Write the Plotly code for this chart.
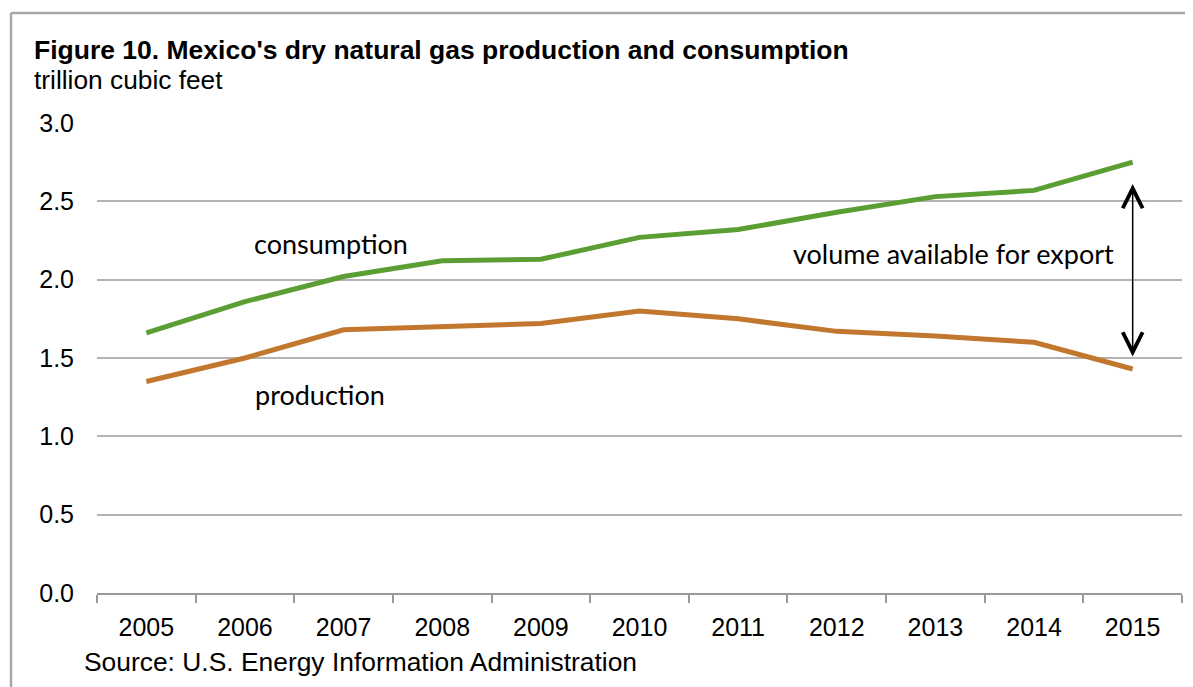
import plotly.graph_objects as go

years = ["2005", "2006", "2007", "2008", "2009", "2010", "2011", "2012", "2013", "2014", "2015"]
consumption = [1.66, 1.86, 2.02, 2.12, 2.13, 2.27, 2.32, 2.43, 2.53, 2.57, 2.75]
production = [1.35, 1.50, 1.68, 1.70, 1.72, 1.80, 1.75, 1.67, 1.64, 1.60, 1.43]
y_ticks = [0.0, 0.5, 1.0, 1.5, 2.0, 2.5, 3.0]
arrow_top = 2.62
arrow_bottom = 1.51

GREEN = "#5B9E33"
ORANGE = "#C2772E"
GRID = "#B3B3B3"
AXIS = "#999999"
SANS = "Liberation Sans, Arial"

# page offset: the figure sits 8px inside the page body
OFF = 8
PL, PR, PT, PB = 97, 1182, 123, 593   # plot area on screen
PW, PH = PR - PL, PB - PT


def px(x):
    return (x - PL) / PW


def py(y):
    return (PB - y) / PH


fig = go.Figure()
fig.add_trace(go.Scatter(x=years, y=consumption, mode="lines", name="consumption",
                         line=dict(color=GREEN, width=5)))
fig.add_trace(go.Scatter(x=years, y=production, mode="lines", name="production",
                         line=dict(color=ORANGE, width=5)))

fig.update_layout(
    width=1193, height=687,
    margin=dict(l=PL - OFF, r=1193 + OFF - PR, t=PT - OFF, b=687 + OFF - PB),
    paper_bgcolor="white", plot_bgcolor="white",
    showlegend=False,
    font=dict(family=SANS, size=25, color="black"),
    xaxis=dict(type="category", range=[-0.5, 10.5], tickson="boundaries",
               ticks="outside", ticklen=8, tickcolor=AXIS, tickwidth=1.5,
               showline=True, linecolor=AXIS, linewidth=1.5,
               showgrid=False, tickfont=dict(size=25), ticklabelstandoff=11),
    yaxis=dict(range=[0, 3], tickvals=y_ticks, tickformat=".1f",
               showgrid=True, gridcolor=GRID, gridwidth=1.5,
               zeroline=False, showline=False, ticks="",
               tickfont=dict(size=25), ticklabelstandoff=22),
)

label_font = dict(family="Lato, Open Sans", size=27, color="black")
fig.add_annotation(x=1.87, y=2.234, xref="x", yref="y", text="consumption",
                   showarrow=False, font=label_font)
fig.add_annotation(x=1.76, y=1.27, xref="x", yref="y", text="production",
                   showarrow=False, font=label_font)
fig.add_annotation(x=8.18, y=2.17, xref="x", yref="y", text="volume available for export",
                   showarrow=False, font=label_font)

fig.add_annotation(x=10, y=arrow_bottom, ax=10, ay=arrow_top, xref="x", yref="y",
                   axref="x", ayref="y", text="", showarrow=True,
                   arrowhead=5, startarrowhead=5, arrowside="end+start",
                   arrowsize=2.6, startarrowsize=2.6, arrowwidth=1.5, arrowcolor="black")

fig.add_annotation(x=px(32), y=py(50), xref="paper", yref="paper",
                   xanchor="left", yanchor="middle", showarrow=False,
                   text="<b>Figure 10. Mexico's dry natural gas production and consumption</b>",
                   font=dict(family=SANS, size=26.5))
fig.add_annotation(x=px(32), y=py(80), xref="paper", yref="paper",
                   xanchor="left", yanchor="middle", showarrow=False,
                   text="trillion cubic feet", font=dict(family=SANS, size=26.3))
fig.add_annotation(x=px(82), y=py(662), xref="paper", yref="paper",
                   xanchor="left", yanchor="middle", showarrow=False,
                   text="Source: U.S. Energy Information Administration",
                   font=dict(family=SANS, size=26.4))

# outer frame (top and left edges visible)
fig.add_shape(type="line", xref="paper", yref="paper",
              x0=px(11), x1=1.2, y0=py(13), y1=py(13),
              line=dict(color="#A6A6A6", width=2.5))
fig.add_shape(type="line", xref="paper", yref="paper",
              x0=px(11), x1=px(11), y0=py(13), y1=-0.4,
              line=dict(color="#A6A6A6", width=2.5))

fig.write_html("out.html")
